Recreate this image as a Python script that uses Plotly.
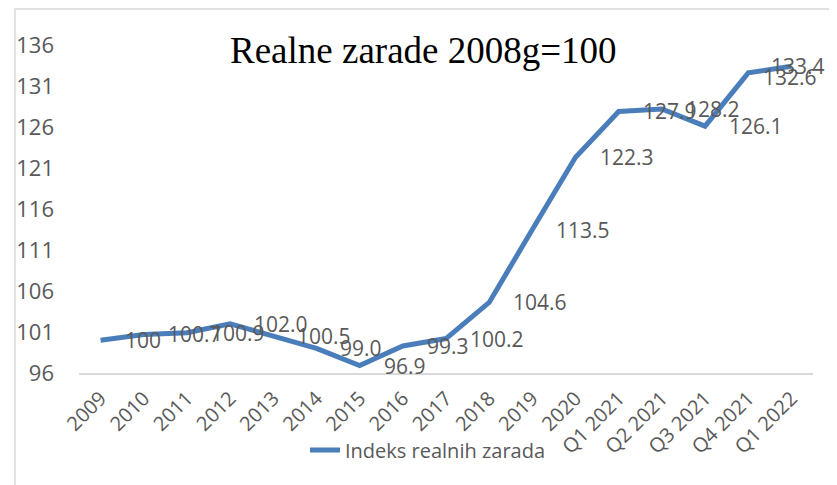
import plotly.graph_objects as go

categories = ['2009', '2010', '2011', '2012', '2013', '2014', '2015', '2016', '2017',
              '2018', '2019', '2020', 'Q1 2021', 'Q2 2021', 'Q3 2021', 'Q4 2021', 'Q1 2022']
values = [100, 100.7, 100.9, 102.0, 100.5, 99.0, 96.9, 99.3, 100.2,
          104.6, 113.5, 122.3, 127.9, 128.2, 126.1, 132.6, 133.4]
value_labels = ['100', '100.7', '100.9', '102.0', '100.5', '99.0', '96.9', '99.3', '100.2',
                '104.6', '113.5', '122.3', '127.9', '128.2', '126.1', '132.6', '133.4']
series_name = 'Indeks realnih zarada'
title_text = 'Realne zarade 2008g=100'

# the page body adds an 8px margin, so the figure is a bit smaller than the window
W, H = 829, 477
L, R, T, B = 71, 24, 37, 112
pw, ph = W - L - R, H - T - B


def px_x(x):
    # page pixel -> paper x
    return (x - 8 - L) / pw


def px_y(y):
    # page pixel -> paper y
    return (H - B - (y - 8)) / ph


gray = '#595959'
blue = '#4A7EBB'

fig = go.Figure()
fig.add_trace(go.Scatter(
    x=categories, y=values,
    mode='lines',
    line=dict(color=blue, width=5),
    name=series_name
))

# data labels, placed right of the points like Excel does
# (x given as category index so the axis doesn't read '2009' as a number)
label_shift = {15: (13, -4), 16: (-22, 0)}
for i, (v, t) in enumerate(zip(values, value_labels)):
    xs, ys = label_shift.get(i, (22, 0))
    fig.add_annotation(
        x=i, y=v, text=t, showarrow=False,
        xanchor='left', yanchor='middle', xshift=xs, yshift=ys,
        font=dict(family='Open Sans', size=21, color=gray)
    )

# title drawn inside the plot area
fig.add_annotation(
    x=px_x(423), y=px_y(50), xref='paper', yref='paper',
    text=title_text, showarrow=False, xanchor='center', yanchor='middle',
    font=dict(family='Liberation Serif, Times New Roman, serif', size=37, color='black')
)

# outer chart border
fig.add_shape(
    type='rect', xref='paper', yref='paper',
    x0=px_x(15), x1=px_x(830), y0=px_y(495), y1=px_y(9),
    line=dict(color='#d9d9d9', width=1.5), layer='below'
)

fig.update_layout(
    width=W, height=H,
    margin=dict(l=L, r=R, t=T, b=B, autoexpand=False),
    paper_bgcolor='white', plot_bgcolor='white',
    font=dict(family='Open Sans', color=gray),
    showlegend=True,
    legend=dict(
        orientation='h', x=px_x(428), xanchor='center', y=px_y(450), yanchor='middle',
        font=dict(size=20, color=gray), bgcolor='rgba(0,0,0,0)'
    ),
    xaxis=dict(
        type='category', categoryorder='array', categoryarray=categories,
        range=[-0.5, len(categories) - 0.5],
        showgrid=False, showline=True, linecolor='#d9d9d9', linewidth=1.5,
        tickangle=-45, tickfont=dict(size=20, color=gray), ticks='', ticklabelstandoff=4
    ),
    yaxis=dict(
        range=[96, 136], tick0=96, dtick=5, showgrid=False, zeroline=False, showline=False,
        tickfont=dict(size=22, color=gray), ticks='', ticklabelstandoff=24
    )
)

fig.write_html("out.html")
